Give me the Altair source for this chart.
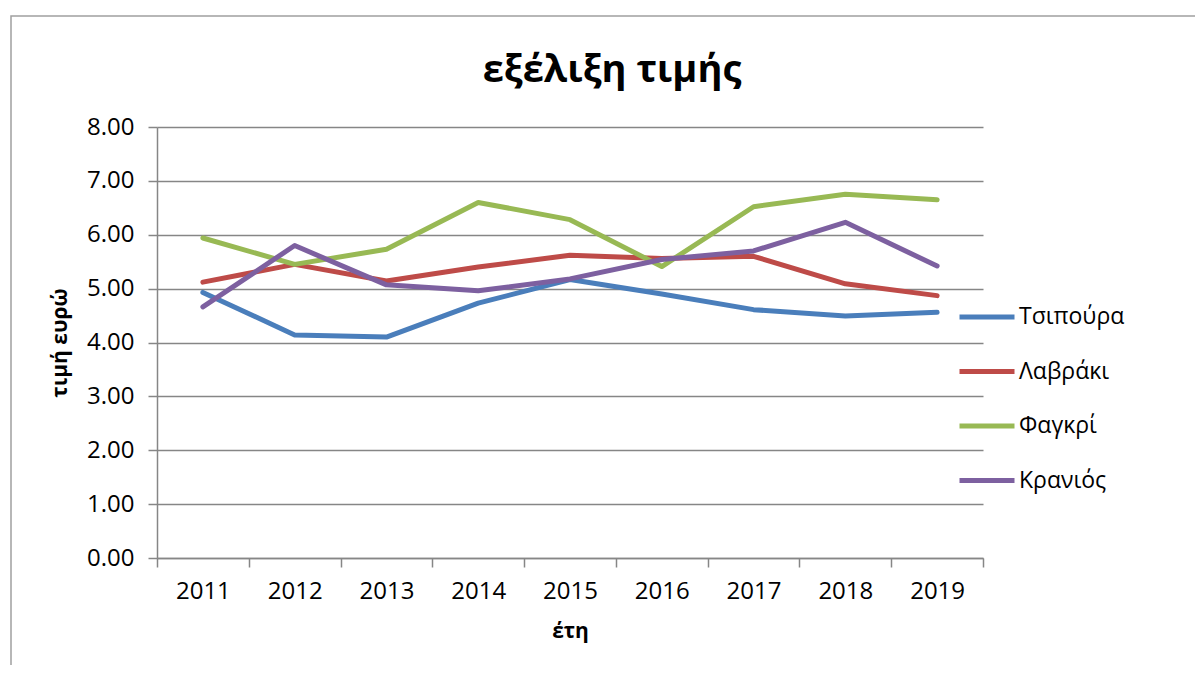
import altair as alt
import pandas as pd

years = ["2011", "2012", "2013", "2014", "2015", "2016", "2017", "2018", "2019"]
tsipoura = [4.93, 4.14, 4.10, 4.73, 5.17, 4.90, 4.61, 4.49, 4.56]
lavraki = [5.12, 5.45, 5.14, 5.40, 5.62, 5.56, 5.60, 5.09, 4.87]
fagkri = [5.94, 5.45, 5.73, 6.60, 6.28, 5.41, 6.52, 6.75, 6.65]
kranios = [4.66, 5.80, 5.07, 4.96, 5.18, 5.54, 5.70, 6.23, 5.42]
series_names = ["Τσιπούρα", "Λαβράκι", "Φαγκρί", "Κρανιός"]
series_colors = ["#4A7EBB", "#BE4B48", "#98B954", "#7D60A0"]
chart_title = "εξέλιξη τιμής"

rows = []
for name, vals in zip(series_names, [tsipoura, lavraki, fagkri, kranios]):
    for y, v in zip(years, vals):
        rows.append({"έτος": y, "τιμή": v, "σειρά": name})
df = pd.DataFrame(rows)

FONT = "Open Sans"
GRID = "#868686"

lines = alt.Chart(df).mark_line(strokeWidth=5, strokeCap="round", strokeJoin="round").encode(
    x=alt.X("έτος:O", sort=years,
            scale=alt.Scale(type="band", paddingInner=0, paddingOuter=0),
            axis=alt.Axis(title="έτη", labelAngle=0, tickBand="extent", tickSize=9,
                          labelPadding=12, titlePadding=17, grid=False)),
    y=alt.Y("τιμή:Q", scale=alt.Scale(domain=[0, 8], nice=False),
            axis=alt.Axis(title="τιμή ευρώ", values=[0, 1, 2, 3, 4, 5, 6, 7, 8], format=".2f",
                          tickSize=9, labelPadding=14, titlePadding=16, grid=True)),
    color=alt.Color("σειρά:N", sort=series_names,
                    scale=alt.Scale(domain=series_names, range=series_colors),
                    legend=alt.Legend(title=None, orient="none", legendX=800, legendY=160,
                                      symbolType="stroke", symbolSize=3025, symbolStrokeWidth=5,
                                      labelFontSize=23, labelFont=FONT, labelColor="black",
                                      rowPadding=12.5, labelOffset=2)),
)

border = alt.Chart(pd.DataFrame({"a": [0]})).mark_rect(fill=None, stroke="#A0A0A0", strokeWidth=1.5).encode(
    x=alt.value(-146), y=alt.value(-111), x2=alt.value(1100), y2=alt.value(700)
)

title = alt.Chart(pd.DataFrame({"t": [chart_title]})).mark_text(
    font=FONT, fontSize=38, fontWeight="bold", color="black", align="center", baseline="alphabetic"
).encode(text="t:N", x=alt.value(455), y=alt.value(-45))

chart = alt.layer(border, lines, title).properties(
    width=826, height=431,
    padding={"left": 149, "top": 119, "right": 212, "bottom": 107},
    autosize=alt.AutoSizeParams(type="none"),
).configure_view(stroke=None).configure_axis(
    labelFont=FONT, labelFontSize=24, labelColor="black",
    titleFont=FONT, titleFontSize=21, titleFontWeight="bold", titleColor="black",
    domainColor=GRID, domainWidth=1.5, tickColor=GRID, tickWidth=1.5,
    gridColor=GRID, gridWidth=1.5,
)

chart.save("out.html", embed_options={"renderer": "svg", "actions": False})
